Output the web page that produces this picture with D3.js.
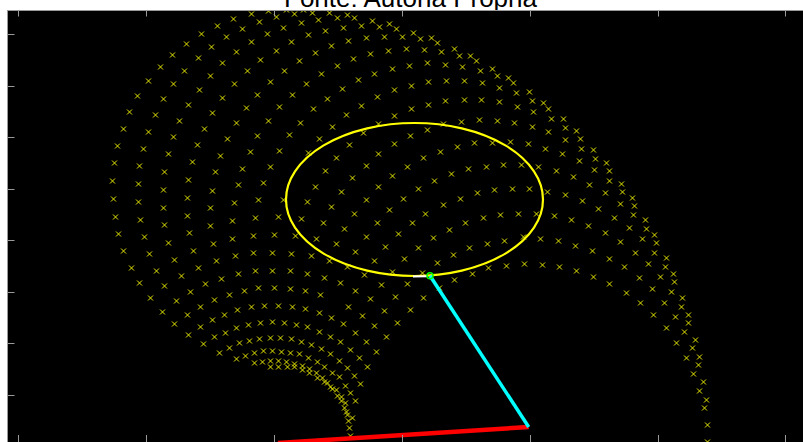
<!DOCTYPE html>
<html>
<head>
<meta charset="utf-8">
<script src="https://cdnjs.cloudflare.com/ajax/libs/d3/7.8.5/d3.min.js"></script>
<style>
  html, body { margin: 0; padding: 0; background: #fff; overflow: hidden; }
  svg { display: block; }
</style>
</head>
<body>
<svg id="chart" width="803" height="442"></svg>
<script>
// workspace samples (x marks), grouped by area
var ptsTopLeft = [[216,427],[200,420],[184,412],[169,402],[155,391],[143,379],[131,365],[120,350],
  [225,417],[209,409],[194,399],[181,388],[167,375],[156,362],[146,347],
  [219,394],[205,383],[193,370],[182,356],[171,341],[230,375],[217,362],[205,348],[229,338]];

var ptsTopMid = [[234,432],[251,435],[259,429],[269,436],[277,432],[286,436],[295,433],[312,433],[320,428],[330,431],[337,428],
  [242,424],[266,418],[284,423],[301,426],[308,415],[326,418],[344,420],[355,425],[362,419],[372,422],[379,417],
  [250,412],[234,404],[274,404],[291,411],[314,400],[331,405],[349,408],[367,409],[385,409],[396,413],[403,407],[414,408],[420,403],
  [259,395],[298,393],[353,392],[371,395],[389,397],[407,396],[424,394],
  [243,386],[282,385],[320,380],[336,387],[375,377],[392,380],[410,383],[428,381],
  [267,375],[304,372],[357,372],[377,356],[394,360],[411,364],[429,365],
  [253,364],[289,362],[341,366],[325,357],[240,351],[275,351],[310,347],[360,349],
  [262,339],[296,337],[344,340],[394,337],[411,341],[428,345]];

var ptsTopRight = [[437,397],[442,390],[453,390],[459,385],[445,379],[463,375],[475,377],[480,370],[491,368],[496,363],
  [447,365],[465,363],[482,358],[499,353],[512,354],[515,345],[526,343],[531,337],[447,346],[464,346],[482,344],[500,339]];

var ptsMidLeft = [[112,334],[138,331],[162,325],[195,333],[219,323],[106,317],[131,314],[156,309],[187,317],[210,307],
  [100,300],[126,297],[151,292],[180,301],[203,290],[233,294],[97,283],[122,280],[147,274],[175,284],[198,274],[225,277],
  [95,265],[121,262],[146,256],[171,266],[195,255],[221,261],[96,247],[121,244],[146,238],[170,248],[193,238],[217,243],
  [98,229],[123,226],[147,221],[170,230],[193,220],[215,225],[101,212],[127,209],[151,203],[172,213],[196,202],[215,207],
  [106,195],[132,192],[157,186],[176,195],[199,185],[218,190],[114,178],[139,175],[164,170],[181,178],[204,167],[221,172],
  [122,163],[147,160],[173,154],[188,162],[212,151],[227,155],[133,148]];

var ptsCenter = [[516,334],[251,325],[283,323],[329,331],[377,330],[361,322],[410,316],[426,322],[444,324],[462,326],[480,325],
  [497,323],[515,319],[531,314],[240,310],[272,311],[315,319],[346,313],[393,310],[302,307],[332,301],[377,302],[440,299],
  [457,303],[475,303],[493,304],[511,302],[528,297],[262,295],[291,293],[319,288],[361,292],[406,288],[423,294],[349,280],
  [390,279],[451,277],[469,279],[486,281],[504,281],[521,279],[253,279],[308,275],[375,270],[434,272],[246,263],[335,268],
  [417,265],[401,257],[298,259],[361,259],[460,253],[477,256],[495,257],[512,257],[530,254],[324,254],[443,247],[241,246],
  [266,246],[290,244],[349,246],[386,247],[314,239],[372,236],[426,241],[337,232],[408,232],[466,228],[483,231],[501,232],
  [519,232],[238,228],[261,229],[284,227],[360,223],[395,223],[448,223],[306,223],[327,217],[381,212],[432,216],[349,209],
  [236,210],[257,211],[278,210],[299,207],[416,208],[470,202],[487,205],[506,209],[523,207],[319,202],[368,199],[401,198],
  [452,198],[338,194],[387,187],[436,191],[236,193],[255,193],[274,192],[294,190],[312,185],[357,185],[420,183],[489,180],
  [507,182],[525,181],[471,178],[455,172],[375,174],[330,179],[238,175],[255,175],[273,175],[290,172],[307,168],[347,171],
  [405,173],[437,166],[323,163],[364,161],[390,162],[422,158],[241,158],[257,158],[273,157],[288,155],[303,151],[338,155],
  [378,149],[406,148],[353,147]];

var ptsMidRight = [[534,327],[546,327],[548,318],[559,315],[548,306],[563,307],[545,292],[564,297],[576,296],[562,285],
  [578,287],[589,283],[539,275],[556,269],[577,276],[592,275],[572,261],[592,265],[604,262],[548,251],[565,245],[588,253],
  [605,254],[615,248],[581,237],[603,242],[617,240],[537,230],[554,226],[571,220],[597,228],[616,231],[628,226],[588,213],
  [612,218],[629,217],[637,211],[541,205],[558,200],[575,195],[603,204],[625,207],[639,203],[592,187],[618,193],[637,193],
  [649,188],[542,179],[559,175],[576,169],[607,179],[631,182],[648,179],[656,172],[592,162],[622,168],[643,169],[657,164],
  [609,153],[635,157],[654,154],[665,148],[623,143],[647,143],[664,139],[671,131],[636,131],[658,129],[671,123],[649,118],
  [667,114],[678,106],[659,103],[675,98]];

var ptsLowLeft = [[145,134],[159,145],[197,146],[183,139],[170,131],[157,122],[207,131],[220,136],[234,139],[247,140],
  [261,140],[275,139],[288,137],[302,133],[314,128],[331,139],[345,130],[367,135],[380,123],[183,119],[195,126],[171,111],
  [186,102],[197,109],[219,118],[231,121],[243,123],[255,124],[267,123],[279,121],[290,119],[326,122],[357,120],[202,93],[369,109]];

var ptsLowCusp = [[208,113],[302,114],[313,109],[338,113],[349,104],[359,94],[212,98],[222,103],[232,105],[242,107],[253,108],
  [263,108],[274,107],[284,104],[294,101],[304,97],[323,104],[333,96],[342,88],[350,79],[219,87],[228,90],[237,93],[246,95],
  [255,95],[264,94],[273,93],[282,92],[291,88],[300,84],[307,79],[315,73],[322,69],[313,92],[322,85],[330,78],[337,70],
  [343,62],[237,83],[245,84],[253,85],[261,85],[269,84],[277,82],[285,80],[292,77],[299,73],[305,68],[310,63],[315,57],
  [320,50],[324,45],[327,38],[330,31],[331,25],[332,18],[333,10],[253,79],[261,79],[270,79],[277,79],[285,76],[292,73],
  [300,68],[307,64],[313,59],[319,56],[324,49],[328,43],[329,34],[335,28],[338,45],[333,53],[328,60]];

var ptsLowRight = [[393,136],[669,88],[682,89],[681,81],[676,72],[686,64],[682,55],[689,46],[687,38],[690,21],[690,4]];

// arm: first link enters at the bottom edge, then elbow -> end effector
var armBaseEdge = [260.5, 3];
var armElbow = [511.2, 19];
var armTip = [412.5, 170.3];

// target ellipse and short trace on it
var ellipseCenter = [397, 246.5];
var ellipseRadii = [128.5, 76.5];
var traceX = [395.5, 409.5];
var traceY = [169.5, 169.8];

var xTicks = [0, 128, 256, 384, 512, 640, 768];
var yTicks = [51, 103, 154, 206, 257, 309, 360, 412];

var points = [].concat(ptsTopLeft, ptsTopMid, ptsTopRight, ptsMidLeft, ptsCenter,
  ptsMidRight, ptsLowLeft, ptsLowCusp, ptsLowRight);

var svg = d3.select("#chart");

var x = d3.scaleLinear().domain([-10, 786]).range([7.5, 803.5]);
var y = d3.scaleLinear().domain([4, 436]).range([442, 10]);

var plotLeft = x.range()[0], plotRight = x.range()[1];
var plotTop = y.range()[1], plotBottom = y.range()[0];

// title (mostly cut off above the axes)
svg.append("text")
  .attr("x", 410.5)
  .attr("y", 6.5)
  .attr("text-anchor", "middle")
  .style("font-family", "'Liberation Sans', Arial, sans-serif")
  .style("font-size", "26px")
  .attr("fill", "#000")
  .text("Fonte: Autoria Própria");

svg.append("rect")
  .attr("x", plotLeft - 0.5).attr("y", plotTop)
  .attr("width", plotRight - plotLeft + 1).attr("height", plotBottom - plotTop)
  .attr("fill", "#000");

svg.append("clipPath").attr("id", "plotclip")
  .append("rect")
  .attr("x", plotLeft).attr("y", plotTop)
  .attr("width", plotRight - plotLeft).attr("height", plotBottom - plotTop);

var plot = svg.append("g").attr("clip-path", "url(#plotclip)");

// x markers
plot.append("g").selectAll("path")
  .data(points)
  .enter().append("path")
  .attr("d", "M-2.5,-2.5L2.5,2.5M-2.5,2.5L2.5,-2.5")
  .attr("transform", function(d) { return "translate(" + x(d[0]) + "," + y(d[1]) + ")"; })
  .attr("fill", "none")
  .attr("stroke", "#e6e600")
  .attr("stroke-width", 1);

// ellipse
plot.append("ellipse")
  .attr("cx", x(ellipseCenter[0]))
  .attr("cy", y(ellipseCenter[1]))
  .attr("rx", x(ellipseCenter[0] + ellipseRadii[0]) - x(ellipseCenter[0]))
  .attr("ry", y(ellipseCenter[1]) - y(ellipseCenter[1] + ellipseRadii[1]))
  .attr("fill", "none")
  .attr("stroke", "#ffff00")
  .attr("stroke-width", 2.2);

var line = d3.line().x(function(d) { return x(d[0]); }).y(function(d) { return y(d[1]); });

plot.append("path")
  .attr("d", line(traceX.map(function(v, i) { return [v, traceY[i]]; })))
  .attr("stroke", "#ffffff")
  .attr("stroke-width", 2)
  .attr("fill", "none");

// links
plot.append("path")
  .attr("d", line([armBaseEdge, armElbow]))
  .attr("stroke", "#ff0000")
  .attr("stroke-width", 4.5)
  .attr("fill", "none");

plot.append("path")
  .attr("d", line([armElbow, armTip]))
  .attr("stroke", "#00ffff")
  .attr("stroke-width", 3.5)
  .attr("fill", "none");

plot.append("circle")
  .attr("cx", x(armTip[0]))
  .attr("cy", y(armTip[1]))
  .attr("r", 3)
  .attr("fill", "none")
  .attr("stroke", "#00ff00")
  .attr("stroke-width", 1.5);

// axes box and ticks
var axisColor = "#9a9a9a";
svg.append("line")
  .attr("x1", plotLeft).attr("x2", plotRight)
  .attr("y1", plotTop + 0.5).attr("y2", plotTop + 0.5)
  .attr("stroke", axisColor);
svg.append("line")
  .attr("x1", plotLeft).attr("x2", plotLeft)
  .attr("y1", plotTop).attr("y2", plotBottom)
  .attr("stroke", axisColor);

svg.append("g").selectAll("line")
  .data(xTicks)
  .enter().append("line")
  .attr("x1", function(d) { return Math.round(x(d)) + 0.5; })
  .attr("x2", function(d) { return Math.round(x(d)) + 0.5; })
  .attr("y1", plotTop).attr("y2", plotTop + 6.5)
  .attr("stroke", axisColor);

svg.append("g").selectAll("line")
  .data(xTicks)
  .enter().append("line")
  .attr("x1", function(d) { return Math.round(x(d)) + 0.5; })
  .attr("x2", function(d) { return Math.round(x(d)) + 0.5; })
  .attr("y1", plotBottom - 7).attr("y2", plotBottom)
  .attr("stroke", axisColor);

svg.append("g").selectAll("line")
  .data(yTicks)
  .enter().append("line")
  .attr("x1", plotLeft).attr("x2", plotLeft + 7)
  .attr("y1", function(d) { return Math.round(y(d)) + 0.5; })
  .attr("y2", function(d) { return Math.round(y(d)) + 0.5; })
  .attr("stroke", axisColor);
</script>
</body>
</html>
